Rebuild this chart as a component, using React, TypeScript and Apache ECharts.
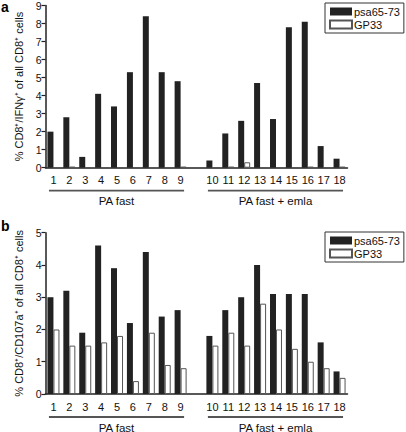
import React, { useEffect, useRef } from "react";
import * as echarts from "echarts";

const categories = ["1", "2", "3", "4", "5", "6", "7", "8", "9", "", "10", "11", "12", "13", "14", "15", "16", "17", "18"];
const seriesNames = ["psa65-73", "GP33"];
const ifnPsa = [2.0, 2.8, 0.6, 4.1, 3.4, 5.3, 8.4, 5.3, 4.8, null, 0.4, 1.9, 2.6, 4.7, 2.7, 7.8, 8.1, 1.2, 0.5];
const ifnGp = [0, 0.05, 0, 0, 0, 0, 0, 0, 0.05, null, 0, 0.05, 0.3, 0, 0, 0, 0.05, 0, 0.05];
const cd107Psa = [3.0, 3.2, 1.9, 4.6, 3.9, 2.2, 4.4, 2.4, 2.6, null, 1.8, 2.6, 3.0, 4.0, 3.1, 3.1, 3.1, 1.6, 0.7];
const cd107Gp = [2.0, 1.5, 1.5, 1.6, 1.8, 0.4, 1.9, 0.9, 0.8, null, 1.5, 1.9, 1.5, 2.8, 2.0, 1.4, 1.0, 0.8, 0.5];
const groups = [
  { label: "PA fast", from: 0, to: 8 },
  { label: "PA fast + emla", from: 10, to: 18 },
];
const yTitleA = "% CD8⁺/IFNγ⁺ of all CD8⁺ cells";
const yTitleB = "% CD8⁺/CD107a⁺ of all CD8⁺ cells";

const FONT = "Liberation Sans, Arial, sans-serif";
const INK = "#222";

export default function App() {
  const ref = useRef<HTMLDivElement>(null);
  useEffect(() => {
    if (!ref.current) return;
    const chart = echarts.init(ref.current, undefined, { renderer: "svg" });
    const xAxis = (gi: number) => ({
      type: "category",
      gridIndex: gi,
      data: categories,
      axisLine: { lineStyle: { color: INK, width: 1.5 } },
      axisTick: { alignWithLabel: true, length: 4, lineStyle: { color: INK, width: 1.2 } },
      axisLabel: { color: "#111", fontSize: 11, fontFamily: FONT, margin: 7, interval: 0 },
    });
    const yAxis = (gi: number, max: number, name: string) => ({
      type: "value",
      gridIndex: gi,
      min: 0,
      max,
      interval: 1,
      name,
      nameLocation: "middle",
      nameGap: 20,
      nameTextStyle: { fontSize: 11, fontFamily: FONT, color: "#111" },
      splitLine: { show: false },
      axisLine: { show: true, lineStyle: { color: INK, width: 1.5 } },
      axisTick: { show: true, length: 4, lineStyle: { color: INK, width: 1.2 } },
      axisLabel: { color: "#111", fontSize: 10.5, fontFamily: FONT, margin: 4 },
    });
    const black = (gi: number, data: (number | null)[]) => ({
      type: "bar",
      name: seriesNames[0],
      xAxisIndex: gi,
      yAxisIndex: gi,
      data,
      barWidth: 6,
      barGap: "0%",
      itemStyle: { color: INK },
    });
    const white = (gi: number, data: (number | null)[]) => ({
      type: "bar",
      name: seriesNames[1],
      xAxisIndex: gi,
      yAxisIndex: gi,
      data,
      barWidth: 6,
      barGap: "0%",
      itemStyle: { color: "#fff", borderColor: "#555", borderWidth: 1 },
    });
    const legend = (top: number) => ({
      data: seriesNames,
      orient: "vertical",
      left: 325,
      top,
      itemWidth: 22,
      itemHeight: 8,
      itemGap: 2,
      icon: "rect",
      padding: [3, 4, 3, 4],
      borderColor: "#333",
      borderWidth: 1,
      selectedMode: false,
      textStyle: { fontSize: 11, fontFamily: FONT, color: "#111", padding: [0, 0, 0, -3] },
    });
    chart.setOption({
      animation: false,
      grid: [
        { left: 45.5, top: 5, width: 302, height: 162.7 },
        { left: 45.5, top: 232.7, width: 302, height: 161.3 },
      ],
      xAxis: [xAxis(0), xAxis(1)],
      yAxis: [yAxis(0, 9, yTitleA), yAxis(1, 5, yTitleB)],
      legend: [legend(3), legend(232)],
      series: [black(0, ifnPsa), white(0, ifnGp), black(1, cd107Psa), white(1, cd107Gp)],
    });

    const graphics: any[] = [
      { type: "text", left: 1, top: 0, style: { text: "a", fontSize: 14, fontWeight: "bold", fontFamily: FONT, fill: "#000" } },
      { type: "text", left: 1, top: 219, style: { text: "b", fontSize: 14, fontWeight: "bold", fontFamily: FONT, fill: "#000" } },
    ];
    [0, 1].forEach((gi) => {
      const y0 = chart.convertToPixel({ yAxisIndex: gi }, 0) as number;
      groups.forEach((g) => {
        const x1 = (chart.convertToPixel({ xAxisIndex: gi }, categories[g.from]) as number) - 4.5;
        const x2 = (chart.convertToPixel({ xAxisIndex: gi }, categories[g.to]) as number) + 3.5;
        graphics.push({
          type: "line",
          shape: { x1, y1: y0 + 23, x2, y2: y0 + 23 },
          style: { stroke: "#555", lineWidth: 1.8 },
        });
        graphics.push({
          type: "text",
          x: (x1 + x2) / 2,
          y: y0 + 33.5,
          style: { text: g.label, fontSize: 11.5, fontFamily: FONT, fill: "#111", align: "center", verticalAlign: "middle" },
        });
      });
    });
    chart.setOption({ graphic: graphics });
    return () => chart.dispose();
  }, []);
  return <div ref={ref} style={{ position: "fixed", left: 0, top: 0, width: 406, height: 432, background: "#fff" }} />;
}
